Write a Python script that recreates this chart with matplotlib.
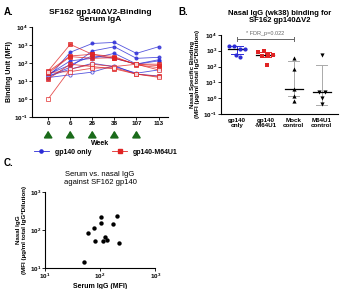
import numpy as np
import matplotlib.pyplot as plt
from matplotlib.lines import Line2D

plt.rcParams['font.family'] = ['Liberation Sans', 'DejaVu Sans']
plt.rcParams['font.weight'] = 'bold'
plt.rcParams['axes.labelweight'] = 'bold'

# Panel A data (serum IgA, MFI per week)
weeks = ['0', '6', '26', '38', '107', '113']
boost_weeks = [0, 1, 2, 3, 4]
blue_series = [
    [15.5, 390, 1200, 1380, 340, 790],
    [18, 58, 460, 790, 180, 205],
    [22, 130, 180, 340, 87, 150],
    [15.5, 22, 31, 71, 24, 19],
    [18, 45, 95, 63, 27, 41],
    [24, 78, 245, 180, 85, 130],
]
blue_filled = [True, True, True, False, False, True]
red_series = [
    [36, 1070, 300, 180, 87, 85],
    [33, 245, 300, 225, 78, 55],
    [27, 225, 180, 195, 85, 71],
    [13, 85, 63, 47, 24, 18],
    [1.0, 45, 85, 63, 85, 41],
    [30, 33, 51, 55, 24, 16],
]
red_filled = [True, True, True, True, False, False]

# Panel B data (nasal IgG wk38)
groups = ['gp140\nonly', 'gp140\n-M64U1', 'Mock\ncontrol', 'M64U1\ncontrol']
nasal_gp140 = [2100, 1900, 1300, 1250, 520, 420]
nasal_m64u1 = [820, 1000, 560, 520, 480, 125]
nasal_mock = [370, 72, 3.8, 1.45, 0.7]
nasal_m64u1_ctrl = [520, 2.5, 2.5, 1.0, 0.42]
medians = [1260, 550, 4.0, 2.3]
q_low = [600, 400, 1.3, 0.34]
q_high = [2000, 850, 230, 117]

# Panel C data (serum vs nasal IgG)
serum_igg = [51, 60, 76, 81, 103, 105, 112, 123, 132, 170, 207, 225]
nasal_igg = [14, 85, 110, 50, 155, 223, 52, 67, 55, 140, 235, 45]

blue = '#2b2bd6'
red = '#e02424'

fig = plt.figure(figsize=(3.41, 2.89), dpi=100)


def style(ax):
    for s in ['top', 'right']:
        ax.spines[s].set_visible(False)
    for s in ['left', 'bottom']:
        ax.spines[s].set_linewidth(0.8)
    ax.tick_params(labelsize=4.5, length=2, width=0.6, pad=1)
    ax.tick_params(which='minor', length=0)


# ---- Panel A ----
axA = fig.add_axes([0.094, 0.595, 0.40, 0.312])
x = np.arange(len(weeks))
for vals, filled in zip(blue_series, blue_filled):
    axA.plot(x, vals, color=blue, lw=0.6, alpha=0.8, marker='o', ms=2.3,
             mfc=blue if filled else 'white', mec=blue, mew=0.6)
for vals, filled in zip(red_series, red_filled):
    axA.plot(x, vals, color=red, lw=0.6, alpha=0.8, marker='s', ms=2.3,
             mfc=red if filled else 'white', mec=red, mew=0.6)
axA.set_yscale('log')
axA.set_ylim(0.1, 1e4)
axA.set_xlim(-0.73, 5.45)
axA.set_xticks(x)
axA.set_xticklabels(weeks)
style(axA)
axA.set_ylabel('Binding Unit (MFI)', fontsize=5, labelpad=1)
axA.set_title('SF162 gp140\u0394V2-Binding\nSerum IgA', fontsize=6, fontweight='bold', pad=4, linespacing=1.1)
for b in boost_weeks:
    axA.annotate('', xy=(b, -0.12), xytext=(b, -0.22), xycoords=('data', 'axes fraction'),
                 textcoords=('data', 'axes fraction'),
                 arrowprops=dict(arrowstyle='-|>,head_width=0.25,head_length=0.4', color='#1a6b1a', lw=1.2))
axA.text(0.5, -0.255, 'Week', transform=axA.transAxes, ha='center', va='top', fontsize=5)

handles = [Line2D([], [], color=blue, lw=0.6, marker='o', ms=2.3),
           Line2D([], [], color=red, lw=0.6, marker='s', ms=2.3)]
fig.legend(handles, ['gp140 only', 'gp140-M64U1'], loc='center', bbox_to_anchor=(0.31, 0.474),
           ncol=2, frameon=False, fontsize=5, handlelength=2.2, columnspacing=3.0, handletextpad=0.8)

# ---- Panel B ----
axB = fig.add_axes([0.648, 0.606, 0.343, 0.273])
pts = [nasal_gp140, nasal_m64u1, nasal_mock, nasal_m64u1_ctrl]
marks = ['o', 's', '^', 'v']
cols = [blue, red, 'black', 'black']
err_cols = [blue, red, '#aaaaaa', '#aaaaaa']
offsets = [[-0.28, -0.1, 0.1, 0.28, -0.05, 0.12],
           [-0.25, -0.05, 0.28, 0.1, -0.12, 0.05],
           [0, 0, 0, 0, 0],
           [0, -0.1, 0.1, 0, 0]]
for i, vals in enumerate(pts):
    axB.plot([i, i], [q_low[i], q_high[i]], color=err_cols[i], lw=0.7, zorder=1)
    for q in (q_low[i], q_high[i]):
        axB.plot([i - 0.2, i + 0.2], [q, q], color=err_cols[i], lw=0.7, zorder=1)
    axB.plot([i - 0.32, i + 0.32], [medians[i], medians[i]], color='black', lw=0.9, zorder=2)
    axB.scatter(np.array(offsets[i][:len(vals)]) + i, vals, marker=marks[i], s=9, color=cols[i],
                zorder=3, linewidths=0)
axB.set_yscale('log')
axB.set_ylim(0.1, 1e4)
axB.set_xlim(-0.57, 3.57)
axB.set_xticks(range(len(groups)))
axB.set_xticklabels(groups, linespacing=1.1)
style(axB)
axB.tick_params(axis='x', length=0, pad=3)
axB.set_ylabel('Nasal Specific Binding\n(MFI (\u00b5g/ml total IgG*Dilution)', fontsize=4.5, labelpad=2, linespacing=1.1)
axB.set_title('Nasal IgG (wk38) binding for\nSF162 gp140\u0394V2', fontsize=5.5, fontweight='bold', pad=9, linespacing=1.1)
axB.plot([0, 2], [5600, 5600], color='#666666', lw=0.7, clip_on=False)
for xx in (0, 2):
    axB.plot([xx, xx], [4300, 7300], color='#666666', lw=0.7, clip_on=False)
axB.text(1, 8500, '* FDR_p=0.022', ha='center', va='bottom', fontsize=4, color='#666666', fontweight='normal')

# ---- Panel C ----
axC = fig.add_axes([0.132, 0.073, 0.323, 0.263])
axC.scatter(serum_igg, nasal_igg, s=10, color='black', linewidths=0)
axC.set_xscale('log')
axC.set_yscale('log')
axC.set_xlim(10, 1000)
axC.set_ylim(10, 1000)
style(axC)
axC.set_xlabel('Serum IgG (MFI)', fontsize=5, labelpad=1)
axC.set_ylabel('Nasal IgG\n(MFI (\u00b5g/ml total IgG*Dilution)', fontsize=4.5, labelpad=2, linespacing=1.1)
axC.set_title('Serum vs. nasal IgG\nagainst SF162 gp140', fontsize=5.5, fontweight='normal', pad=6, linespacing=1.1)

# panel letters
fig.text(0.012, 0.975, 'A.', fontsize=7, fontweight='bold', va='top')
fig.text(0.522, 0.975, 'B.', fontsize=7, fontweight='bold', va='top')
fig.text(0.012, 0.455, 'C.', fontsize=7, fontweight='bold', va='top')

fig.savefig('out.png', dpi=100)
